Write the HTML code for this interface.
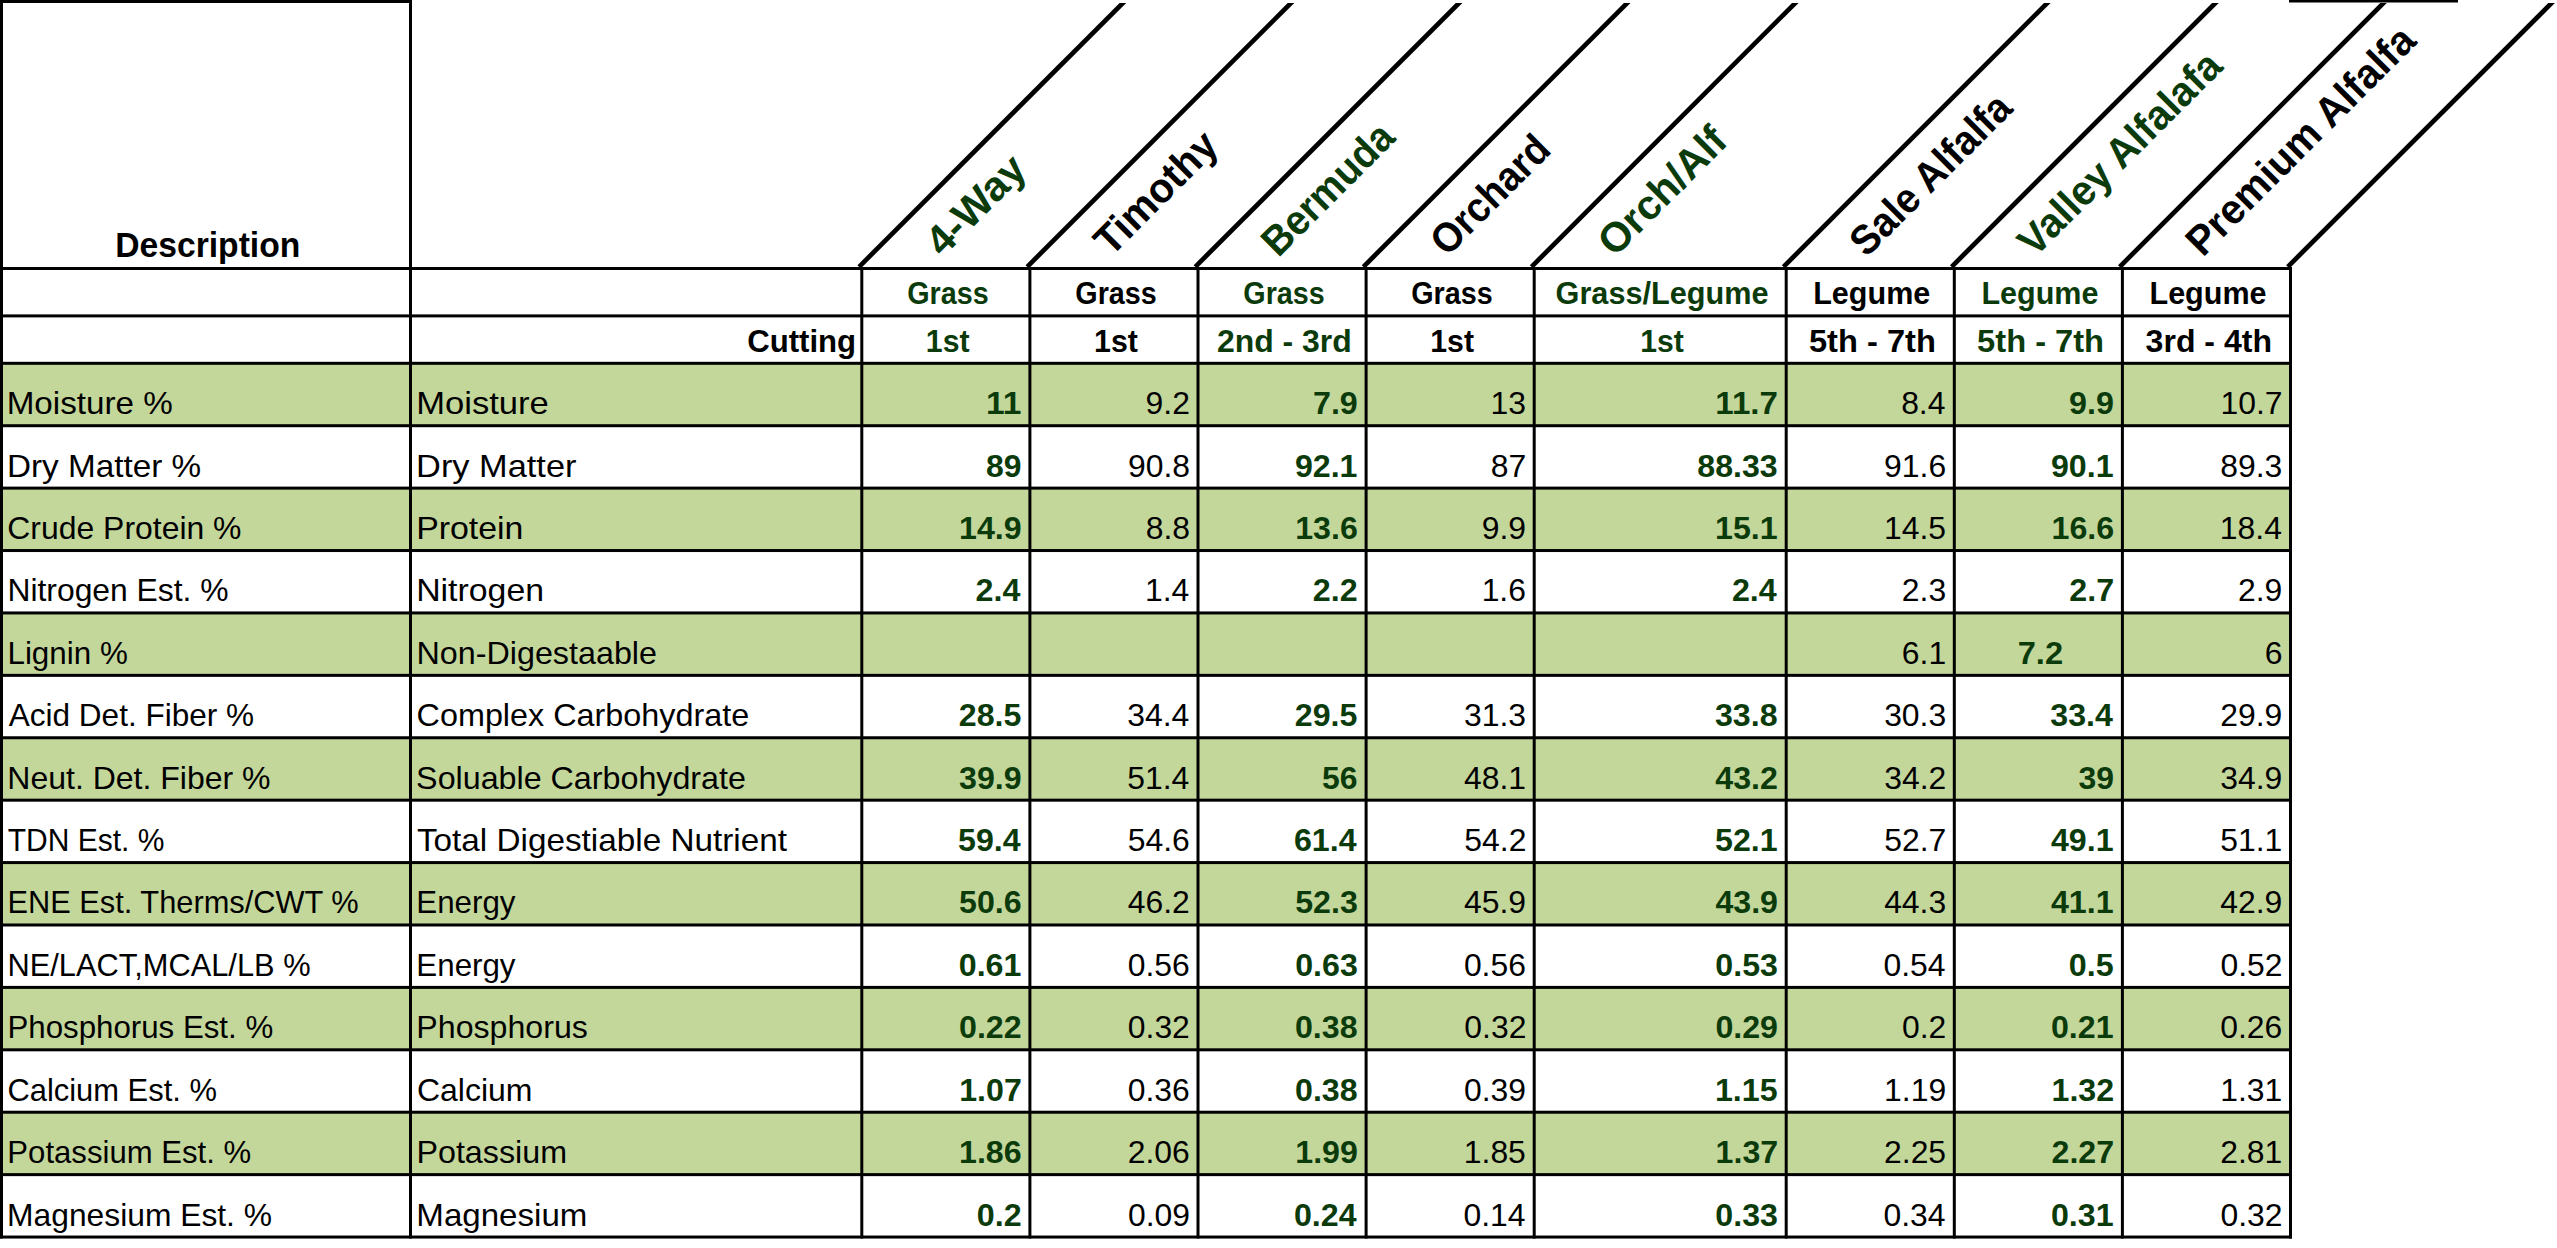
<!DOCTYPE html>
<html lang="en"><head><meta charset="utf-8"><title>Hay Analysis</title>
<style>html,body{margin:0;padding:0;background:#fff}body{width:2557px;height:1248px;overflow:hidden}</style></head>
<body>
<svg width="2557" height="1248" viewBox="0 0 2557 1248" style="display:block" font-family="'Liberation Sans', sans-serif">
<rect x="0" y="0" width="2557" height="1248" fill="#fff"/>
<rect x="1" y="362.80" width="2290.00" height="62.41" fill="#C4D79B"/>
<rect x="1" y="487.62" width="2290.00" height="62.41" fill="#C4D79B"/>
<rect x="1" y="612.44" width="2290.00" height="62.41" fill="#C4D79B"/>
<rect x="1" y="737.26" width="2290.00" height="62.41" fill="#C4D79B"/>
<rect x="1" y="862.08" width="2290.00" height="62.41" fill="#C4D79B"/>
<rect x="1" y="986.90" width="2290.00" height="62.41" fill="#C4D79B"/>
<rect x="1" y="1111.72" width="2290.00" height="62.41" fill="#C4D79B"/>
<g fill="#000"><rect x="0" y="0" width="412" height="3"/><rect x="2289" y="0" width="169" height="2.5"/><rect x="0" y="267.00" width="2292.00" height="3.0"/><rect x="0" y="314.40" width="2292.00" height="3.0"/><rect x="0" y="361.80" width="2292.00" height="3.0"/><rect x="0" y="424.21" width="2292.00" height="3.0"/><rect x="0" y="486.62" width="2292.00" height="3.0"/><rect x="0" y="549.03" width="2292.00" height="3.0"/><rect x="0" y="611.44" width="2292.00" height="3.0"/><rect x="0" y="673.85" width="2292.00" height="3.0"/><rect x="0" y="736.26" width="2292.00" height="3.0"/><rect x="0" y="798.67" width="2292.00" height="3.0"/><rect x="0" y="861.08" width="2292.00" height="3.0"/><rect x="0" y="923.49" width="2292.00" height="3.0"/><rect x="0" y="985.90" width="2292.00" height="3.0"/><rect x="0" y="1048.31" width="2292.00" height="3.0"/><rect x="0" y="1110.72" width="2292.00" height="3.0"/><rect x="0" y="1173.13" width="2292.00" height="3.0"/><rect x="0" y="1235.54" width="2292.00" height="3.0"/><rect x="0" y="0" width="3.0" height="1238.54"/><rect x="409" y="0" width="3.0" height="1238.54"/><rect x="860.30" y="267" width="3.0" height="971.54"/><rect x="1028.40" y="267" width="3.0" height="971.54"/><rect x="1196.50" y="267" width="3.0" height="971.54"/><rect x="1364.60" y="267" width="3.0" height="971.54"/><rect x="1532.70" y="267" width="3.0" height="971.54"/><rect x="1784.70" y="267" width="3.0" height="971.54"/><rect x="1952.80" y="267" width="3.0" height="971.54"/><rect x="2120.90" y="267" width="3.0" height="971.54"/><rect x="2289.00" y="267" width="3.0" height="971.54"/></g>
<clipPath id="dc"><rect x="0" y="3" width="2557" height="270"/></clipPath>
<g stroke="#000" stroke-width="4.7" clip-path="url(#dc)"><line x1="859.10" y1="266.8" x2="1135.90" y2="-10"/><line x1="1027.20" y1="266.8" x2="1304.00" y2="-10"/><line x1="1195.30" y1="266.8" x2="1472.10" y2="-10"/><line x1="1363.40" y1="266.8" x2="1640.20" y2="-10"/><line x1="1531.50" y1="266.8" x2="1808.30" y2="-10"/><line x1="1783.50" y1="266.8" x2="2060.30" y2="-10"/><line x1="1951.60" y1="266.8" x2="2228.40" y2="-10"/><line x1="2119.70" y1="266.8" x2="2396.50" y2="-10"/><line x1="2287.80" y1="266.8" x2="2564.60" y2="-10"/></g>
<text x="115.20" y="257.20" font-size="35.0" font-weight="bold" textLength="185.13" lengthAdjust="spacingAndGlyphs">Description</text>
<text x="747.18" y="352.20" font-size="32.0" font-weight="bold" textLength="108.90" lengthAdjust="spacingAndGlyphs">Cutting</text>
<text x="907.23" y="304.30" font-size="32.0" font-weight="bold" fill="#0B3B0B" textLength="81.43" lengthAdjust="spacingAndGlyphs">Grass</text>
<text x="925.85" y="352.20" font-size="32.0" font-weight="bold" fill="#0B3B0B" textLength="43.66" lengthAdjust="spacingAndGlyphs">1st</text>
<text x="1075.33" y="304.30" font-size="32.0" font-weight="bold" textLength="81.45" lengthAdjust="spacingAndGlyphs">Grass</text>
<text x="1094.04" y="352.20" font-size="32.0" font-weight="bold" textLength="43.81" lengthAdjust="spacingAndGlyphs">1st</text>
<text x="1243.30" y="304.30" font-size="32.0" font-weight="bold" fill="#0B3B0B" textLength="81.40" lengthAdjust="spacingAndGlyphs">Grass</text>
<text x="1216.98" y="352.20" font-size="32.0" font-weight="bold" fill="#0B3B0B" textLength="134.82" lengthAdjust="spacingAndGlyphs">2nd - 3rd</text>
<text x="1411.21" y="304.30" font-size="32.0" font-weight="bold" textLength="81.45" lengthAdjust="spacingAndGlyphs">Grass</text>
<text x="1430.26" y="352.20" font-size="32.0" font-weight="bold" textLength="43.74" lengthAdjust="spacingAndGlyphs">1st</text>
<text x="1555.57" y="304.30" font-size="32.0" font-weight="bold" fill="#0B3B0B" textLength="212.99" lengthAdjust="spacingAndGlyphs">Grass/Legume</text>
<text x="1640.29" y="352.20" font-size="32.0" font-weight="bold" fill="#0B3B0B" textLength="43.54" lengthAdjust="spacingAndGlyphs">1st</text>
<text x="1813.22" y="304.30" font-size="32.0" font-weight="bold" textLength="117.04" lengthAdjust="spacingAndGlyphs">Legume</text>
<text x="1808.94" y="352.20" font-size="32.0" font-weight="bold" textLength="126.90" lengthAdjust="spacingAndGlyphs">5th - 7th</text>
<text x="1981.38" y="304.30" font-size="32.0" font-weight="bold" fill="#0B3B0B" textLength="117.08" lengthAdjust="spacingAndGlyphs">Legume</text>
<text x="1977.12" y="352.20" font-size="32.0" font-weight="bold" fill="#0B3B0B" textLength="126.93" lengthAdjust="spacingAndGlyphs">5th - 7th</text>
<text x="2149.49" y="304.30" font-size="32.0" font-weight="bold" textLength="117.09" lengthAdjust="spacingAndGlyphs">Legume</text>
<text x="2145.62" y="352.20" font-size="32.0" font-weight="bold" textLength="126.38" lengthAdjust="spacingAndGlyphs">3rd - 4th</text>
<text x="6.69" y="414.21" font-size="32.0" textLength="166.18" lengthAdjust="spacingAndGlyphs">Moisture %</text>
<text x="416.20" y="414.21" font-size="32.0" textLength="132.67" lengthAdjust="spacingAndGlyphs">Moisture</text>
<text x="985.93" y="414.21" font-size="32.0" font-weight="bold" fill="#0B3B0B" textLength="35.48" lengthAdjust="spacingAndGlyphs">11</text>
<text x="1145.55" y="414.21" font-size="32.0" textLength="44.31" lengthAdjust="spacingAndGlyphs">9.2</text>
<text x="1312.97" y="414.21" font-size="32.0" font-weight="bold" fill="#0B3B0B" textLength="44.83" lengthAdjust="spacingAndGlyphs">7.9</text>
<text x="1490.46" y="414.21" font-size="32.0" textLength="35.48" lengthAdjust="spacingAndGlyphs">13</text>
<text x="1715.35" y="414.21" font-size="32.0" font-weight="bold" fill="#0B3B0B" textLength="62.57" lengthAdjust="spacingAndGlyphs">11.7</text>
<text x="1901.15" y="414.21" font-size="32.0" textLength="44.31" lengthAdjust="spacingAndGlyphs">8.4</text>
<text x="2069.10" y="414.21" font-size="32.0" font-weight="bold" fill="#0B3B0B" textLength="44.83" lengthAdjust="spacingAndGlyphs">9.9</text>
<text x="2220.44" y="414.21" font-size="32.0" textLength="62.05" lengthAdjust="spacingAndGlyphs">10.7</text>
<text x="6.99" y="476.62" font-size="32.0" textLength="194.12" lengthAdjust="spacingAndGlyphs">Dry Matter %</text>
<text x="416.13" y="476.62" font-size="32.0" textLength="160.30" lengthAdjust="spacingAndGlyphs">Dry Matter</text>
<text x="986.10" y="476.62" font-size="32.0" font-weight="bold" fill="#0B3B0B" textLength="35.48" lengthAdjust="spacingAndGlyphs">89</text>
<text x="1127.95" y="476.62" font-size="32.0" textLength="62.05" lengthAdjust="spacingAndGlyphs">90.8</text>
<text x="1294.89" y="476.62" font-size="32.0" font-weight="bold" fill="#0B3B0B" textLength="62.57" lengthAdjust="spacingAndGlyphs">92.1</text>
<text x="1490.68" y="476.62" font-size="32.0" textLength="35.48" lengthAdjust="spacingAndGlyphs">87</text>
<text x="1697.35" y="476.62" font-size="32.0" font-weight="bold" fill="#0B3B0B" textLength="80.31" lengthAdjust="spacingAndGlyphs">88.33</text>
<text x="1884.07" y="476.62" font-size="32.0" textLength="62.05" lengthAdjust="spacingAndGlyphs">91.6</text>
<text x="2050.99" y="476.62" font-size="32.0" font-weight="bold" fill="#0B3B0B" textLength="62.57" lengthAdjust="spacingAndGlyphs">90.1</text>
<text x="2220.26" y="476.62" font-size="32.0" textLength="62.05" lengthAdjust="spacingAndGlyphs">89.3</text>
<text x="7.34" y="539.03" font-size="32.0" textLength="234.13" lengthAdjust="spacingAndGlyphs">Crude Protein %</text>
<text x="416.16" y="539.03" font-size="32.0" textLength="107.30" lengthAdjust="spacingAndGlyphs">Protein</text>
<text x="959.07" y="539.03" font-size="32.0" font-weight="bold" fill="#0B3B0B" textLength="62.57" lengthAdjust="spacingAndGlyphs">14.9</text>
<text x="1145.69" y="539.03" font-size="32.0" textLength="44.31" lengthAdjust="spacingAndGlyphs">8.8</text>
<text x="1295.23" y="539.03" font-size="32.0" font-weight="bold" fill="#0B3B0B" textLength="62.57" lengthAdjust="spacingAndGlyphs">13.6</text>
<text x="1481.69" y="539.03" font-size="32.0" textLength="44.31" lengthAdjust="spacingAndGlyphs">9.9</text>
<text x="1715.04" y="539.03" font-size="32.0" font-weight="bold" fill="#0B3B0B" textLength="62.57" lengthAdjust="spacingAndGlyphs">15.1</text>
<text x="1884.05" y="539.03" font-size="32.0" textLength="62.05" lengthAdjust="spacingAndGlyphs">14.5</text>
<text x="2051.51" y="539.03" font-size="32.0" font-weight="bold" fill="#0B3B0B" textLength="62.57" lengthAdjust="spacingAndGlyphs">16.6</text>
<text x="2219.84" y="539.03" font-size="32.0" textLength="62.05" lengthAdjust="spacingAndGlyphs">18.4</text>
<text x="7.42" y="601.44" font-size="32.0" textLength="221.21" lengthAdjust="spacingAndGlyphs">Nitrogen Est. %</text>
<text x="416.16" y="601.44" font-size="32.0" textLength="127.85" lengthAdjust="spacingAndGlyphs">Nitrogen</text>
<text x="975.59" y="601.44" font-size="32.0" font-weight="bold" fill="#0B3B0B" textLength="44.83" lengthAdjust="spacingAndGlyphs">2.4</text>
<text x="1144.96" y="601.44" font-size="32.0" textLength="44.31" lengthAdjust="spacingAndGlyphs">1.4</text>
<text x="1312.80" y="601.44" font-size="32.0" font-weight="bold" fill="#0B3B0B" textLength="44.83" lengthAdjust="spacingAndGlyphs">2.2</text>
<text x="1481.63" y="601.44" font-size="32.0" textLength="44.31" lengthAdjust="spacingAndGlyphs">1.6</text>
<text x="1731.94" y="601.44" font-size="32.0" font-weight="bold" fill="#0B3B0B" textLength="44.83" lengthAdjust="spacingAndGlyphs">2.4</text>
<text x="1901.87" y="601.44" font-size="32.0" textLength="44.31" lengthAdjust="spacingAndGlyphs">2.3</text>
<text x="2069.30" y="601.44" font-size="32.0" font-weight="bold" fill="#0B3B0B" textLength="44.83" lengthAdjust="spacingAndGlyphs">2.7</text>
<text x="2238.03" y="601.44" font-size="32.0" textLength="44.31" lengthAdjust="spacingAndGlyphs">2.9</text>
<text x="7.46" y="663.85" font-size="32.0" textLength="120.34" lengthAdjust="spacingAndGlyphs">Lignin %</text>
<text x="416.45" y="663.85" font-size="32.0" textLength="240.56" lengthAdjust="spacingAndGlyphs">Non-Digestaable</text>
<text x="1901.85" y="663.85" font-size="32.0" textLength="44.31" lengthAdjust="spacingAndGlyphs">6.1</text>
<text x="2017.68" y="663.85" font-size="32.0" font-weight="bold" fill="#0B3B0B" textLength="45.35" lengthAdjust="spacingAndGlyphs">7.2</text>
<text x="2264.66" y="663.85" font-size="32.0" textLength="17.74" lengthAdjust="spacingAndGlyphs">6</text>
<text x="8.78" y="726.26" font-size="32.0" textLength="245.23" lengthAdjust="spacingAndGlyphs">Acid Det. Fiber %</text>
<text x="416.61" y="726.26" font-size="32.0" textLength="332.53" lengthAdjust="spacingAndGlyphs">Complex Carbohydrate</text>
<text x="958.75" y="726.26" font-size="32.0" font-weight="bold" fill="#0B3B0B" textLength="62.57" lengthAdjust="spacingAndGlyphs">28.5</text>
<text x="1127.22" y="726.26" font-size="32.0" textLength="62.05" lengthAdjust="spacingAndGlyphs">34.4</text>
<text x="1294.84" y="726.26" font-size="32.0" font-weight="bold" fill="#0B3B0B" textLength="62.57" lengthAdjust="spacingAndGlyphs">29.5</text>
<text x="1463.97" y="726.26" font-size="32.0" textLength="62.05" lengthAdjust="spacingAndGlyphs">31.3</text>
<text x="1714.99" y="726.26" font-size="32.0" font-weight="bold" fill="#0B3B0B" textLength="62.57" lengthAdjust="spacingAndGlyphs">33.8</text>
<text x="1884.13" y="726.26" font-size="32.0" textLength="62.05" lengthAdjust="spacingAndGlyphs">30.3</text>
<text x="2050.28" y="726.26" font-size="32.0" font-weight="bold" fill="#0B3B0B" textLength="62.57" lengthAdjust="spacingAndGlyphs">33.4</text>
<text x="2220.29" y="726.26" font-size="32.0" textLength="62.05" lengthAdjust="spacingAndGlyphs">29.9</text>
<text x="7.37" y="788.67" font-size="32.0" textLength="263.11" lengthAdjust="spacingAndGlyphs">Neut. Det. Fiber %</text>
<text x="416.14" y="788.67" font-size="32.0" textLength="329.80" lengthAdjust="spacingAndGlyphs">Soluable Carbohydrate</text>
<text x="959.07" y="788.67" font-size="32.0" font-weight="bold" fill="#0B3B0B" textLength="62.57" lengthAdjust="spacingAndGlyphs">39.9</text>
<text x="1127.19" y="788.67" font-size="32.0" textLength="62.05" lengthAdjust="spacingAndGlyphs">51.4</text>
<text x="1322.11" y="788.67" font-size="32.0" font-weight="bold" fill="#0B3B0B" textLength="35.48" lengthAdjust="spacingAndGlyphs">56</text>
<text x="1463.99" y="788.67" font-size="32.0" textLength="62.05" lengthAdjust="spacingAndGlyphs">48.1</text>
<text x="1715.26" y="788.67" font-size="32.0" font-weight="bold" fill="#0B3B0B" textLength="62.57" lengthAdjust="spacingAndGlyphs">43.2</text>
<text x="1884.29" y="788.67" font-size="32.0" textLength="62.05" lengthAdjust="spacingAndGlyphs">34.2</text>
<text x="2078.46" y="788.67" font-size="32.0" font-weight="bold" fill="#0B3B0B" textLength="35.48" lengthAdjust="spacingAndGlyphs">39</text>
<text x="2220.29" y="788.67" font-size="32.0" textLength="62.05" lengthAdjust="spacingAndGlyphs">34.9</text>
<text x="7.71" y="851.08" font-size="32.0" textLength="156.62" lengthAdjust="spacingAndGlyphs">TDN Est. %</text>
<text x="416.97" y="851.08" font-size="32.0" textLength="369.97" lengthAdjust="spacingAndGlyphs">Total Digestiable Nutrient</text>
<text x="958.05" y="851.08" font-size="32.0" font-weight="bold" fill="#0B3B0B" textLength="62.57" lengthAdjust="spacingAndGlyphs">59.4</text>
<text x="1127.71" y="851.08" font-size="32.0" textLength="62.05" lengthAdjust="spacingAndGlyphs">54.6</text>
<text x="1293.97" y="851.08" font-size="32.0" font-weight="bold" fill="#0B3B0B" textLength="62.57" lengthAdjust="spacingAndGlyphs">61.4</text>
<text x="1464.34" y="851.08" font-size="32.0" textLength="62.05" lengthAdjust="spacingAndGlyphs">54.2</text>
<text x="1715.04" y="851.08" font-size="32.0" font-weight="bold" fill="#0B3B0B" textLength="62.57" lengthAdjust="spacingAndGlyphs">52.1</text>
<text x="1884.29" y="851.08" font-size="32.0" textLength="62.05" lengthAdjust="spacingAndGlyphs">52.7</text>
<text x="2050.99" y="851.08" font-size="32.0" font-weight="bold" fill="#0B3B0B" textLength="62.57" lengthAdjust="spacingAndGlyphs">49.1</text>
<text x="2220.29" y="851.08" font-size="32.0" textLength="62.05" lengthAdjust="spacingAndGlyphs">51.1</text>
<text x="7.49" y="913.49" font-size="32.0" textLength="351.24" lengthAdjust="spacingAndGlyphs">ENE Est. Therms/CWT %</text>
<text x="416.33" y="913.49" font-size="32.0" textLength="99.17" lengthAdjust="spacingAndGlyphs">Energy</text>
<text x="959.01" y="913.49" font-size="32.0" font-weight="bold" fill="#0B3B0B" textLength="62.57" lengthAdjust="spacingAndGlyphs">50.6</text>
<text x="1127.81" y="913.49" font-size="32.0" textLength="62.05" lengthAdjust="spacingAndGlyphs">46.2</text>
<text x="1295.23" y="913.49" font-size="32.0" font-weight="bold" fill="#0B3B0B" textLength="62.57" lengthAdjust="spacingAndGlyphs">52.3</text>
<text x="1463.95" y="913.49" font-size="32.0" textLength="62.05" lengthAdjust="spacingAndGlyphs">45.9</text>
<text x="1715.38" y="913.49" font-size="32.0" font-weight="bold" fill="#0B3B0B" textLength="62.57" lengthAdjust="spacingAndGlyphs">43.9</text>
<text x="1884.13" y="913.49" font-size="32.0" textLength="62.05" lengthAdjust="spacingAndGlyphs">44.3</text>
<text x="2050.99" y="913.49" font-size="32.0" font-weight="bold" fill="#0B3B0B" textLength="62.57" lengthAdjust="spacingAndGlyphs">41.1</text>
<text x="2220.29" y="913.49" font-size="32.0" textLength="62.05" lengthAdjust="spacingAndGlyphs">42.9</text>
<text x="7.46" y="975.90" font-size="32.0" textLength="303.11" lengthAdjust="spacingAndGlyphs">NE/LACT,MCAL/LB %</text>
<text x="416.35" y="975.90" font-size="32.0" textLength="99.17" lengthAdjust="spacingAndGlyphs">Energy</text>
<text x="958.79" y="975.90" font-size="32.0" font-weight="bold" fill="#0B3B0B" textLength="62.57" lengthAdjust="spacingAndGlyphs">0.61</text>
<text x="1127.71" y="975.90" font-size="32.0" textLength="62.05" lengthAdjust="spacingAndGlyphs">0.56</text>
<text x="1295.24" y="975.90" font-size="32.0" font-weight="bold" fill="#0B3B0B" textLength="62.57" lengthAdjust="spacingAndGlyphs">0.63</text>
<text x="1463.89" y="975.90" font-size="32.0" textLength="62.05" lengthAdjust="spacingAndGlyphs">0.56</text>
<text x="1715.36" y="975.90" font-size="32.0" font-weight="bold" fill="#0B3B0B" textLength="62.57" lengthAdjust="spacingAndGlyphs">0.53</text>
<text x="1883.42" y="975.90" font-size="32.0" textLength="62.05" lengthAdjust="spacingAndGlyphs">0.54</text>
<text x="2068.77" y="975.90" font-size="32.0" font-weight="bold" fill="#0B3B0B" textLength="44.83" lengthAdjust="spacingAndGlyphs">0.5</text>
<text x="2220.44" y="975.90" font-size="32.0" textLength="62.05" lengthAdjust="spacingAndGlyphs">0.52</text>
<text x="7.49" y="1038.31" font-size="32.0" textLength="265.71" lengthAdjust="spacingAndGlyphs">Phosphorus Est. %</text>
<text x="416.33" y="1038.31" font-size="32.0" textLength="171.49" lengthAdjust="spacingAndGlyphs">Phosphorus</text>
<text x="959.06" y="1038.31" font-size="32.0" font-weight="bold" fill="#0B3B0B" textLength="62.57" lengthAdjust="spacingAndGlyphs">0.22</text>
<text x="1127.81" y="1038.31" font-size="32.0" textLength="62.05" lengthAdjust="spacingAndGlyphs">0.32</text>
<text x="1294.99" y="1038.31" font-size="32.0" font-weight="bold" fill="#0B3B0B" textLength="62.57" lengthAdjust="spacingAndGlyphs">0.38</text>
<text x="1464.34" y="1038.31" font-size="32.0" textLength="62.05" lengthAdjust="spacingAndGlyphs">0.32</text>
<text x="1715.38" y="1038.31" font-size="32.0" font-weight="bold" fill="#0B3B0B" textLength="62.57" lengthAdjust="spacingAndGlyphs">0.29</text>
<text x="1902.03" y="1038.31" font-size="32.0" textLength="44.31" lengthAdjust="spacingAndGlyphs">0.2</text>
<text x="2050.99" y="1038.31" font-size="32.0" font-weight="bold" fill="#0B3B0B" textLength="62.57" lengthAdjust="spacingAndGlyphs">0.21</text>
<text x="2220.23" y="1038.31" font-size="32.0" textLength="62.05" lengthAdjust="spacingAndGlyphs">0.26</text>
<text x="7.39" y="1100.72" font-size="32.0" textLength="209.53" lengthAdjust="spacingAndGlyphs">Calcium Est. %</text>
<text x="416.89" y="1100.72" font-size="32.0" textLength="115.55" lengthAdjust="spacingAndGlyphs">Calcium</text>
<text x="959.23" y="1100.72" font-size="32.0" font-weight="bold" fill="#0B3B0B" textLength="62.57" lengthAdjust="spacingAndGlyphs">1.07</text>
<text x="1127.71" y="1100.72" font-size="32.0" textLength="62.05" lengthAdjust="spacingAndGlyphs">0.36</text>
<text x="1295.01" y="1100.72" font-size="32.0" font-weight="bold" fill="#0B3B0B" textLength="62.57" lengthAdjust="spacingAndGlyphs">0.38</text>
<text x="1463.95" y="1100.72" font-size="32.0" textLength="62.05" lengthAdjust="spacingAndGlyphs">0.39</text>
<text x="1714.97" y="1100.72" font-size="32.0" font-weight="bold" fill="#0B3B0B" textLength="62.57" lengthAdjust="spacingAndGlyphs">1.15</text>
<text x="1884.07" y="1100.72" font-size="32.0" textLength="62.05" lengthAdjust="spacingAndGlyphs">1.19</text>
<text x="2051.55" y="1100.72" font-size="32.0" font-weight="bold" fill="#0B3B0B" textLength="62.57" lengthAdjust="spacingAndGlyphs">1.32</text>
<text x="2220.29" y="1100.72" font-size="32.0" textLength="62.05" lengthAdjust="spacingAndGlyphs">1.31</text>
<text x="7.37" y="1163.13" font-size="32.0" textLength="243.77" lengthAdjust="spacingAndGlyphs">Potassium Est. %</text>
<text x="416.45" y="1163.13" font-size="32.0" textLength="150.63" lengthAdjust="spacingAndGlyphs">Potassium</text>
<text x="959.01" y="1163.13" font-size="32.0" font-weight="bold" fill="#0B3B0B" textLength="62.57" lengthAdjust="spacingAndGlyphs">1.86</text>
<text x="1127.71" y="1163.13" font-size="32.0" textLength="62.05" lengthAdjust="spacingAndGlyphs">2.06</text>
<text x="1295.28" y="1163.13" font-size="32.0" font-weight="bold" fill="#0B3B0B" textLength="62.57" lengthAdjust="spacingAndGlyphs">1.99</text>
<text x="1463.81" y="1163.13" font-size="32.0" textLength="62.05" lengthAdjust="spacingAndGlyphs">1.85</text>
<text x="1715.58" y="1163.13" font-size="32.0" font-weight="bold" fill="#0B3B0B" textLength="62.57" lengthAdjust="spacingAndGlyphs">1.37</text>
<text x="1884.05" y="1163.13" font-size="32.0" textLength="62.05" lengthAdjust="spacingAndGlyphs">2.25</text>
<text x="2051.53" y="1163.13" font-size="32.0" font-weight="bold" fill="#0B3B0B" textLength="62.57" lengthAdjust="spacingAndGlyphs">2.27</text>
<text x="2220.29" y="1163.13" font-size="32.0" textLength="62.05" lengthAdjust="spacingAndGlyphs">2.81</text>
<text x="7.12" y="1225.54" font-size="32.0" textLength="264.93" lengthAdjust="spacingAndGlyphs">Magnesium Est. %</text>
<text x="416.38" y="1225.54" font-size="32.0" textLength="170.99" lengthAdjust="spacingAndGlyphs">Magnesium</text>
<text x="976.81" y="1225.54" font-size="32.0" font-weight="bold" fill="#0B3B0B" textLength="44.83" lengthAdjust="spacingAndGlyphs">0.2</text>
<text x="1128.04" y="1225.54" font-size="32.0" textLength="62.05" lengthAdjust="spacingAndGlyphs">0.09</text>
<text x="1293.97" y="1225.54" font-size="32.0" font-weight="bold" fill="#0B3B0B" textLength="62.57" lengthAdjust="spacingAndGlyphs">0.24</text>
<text x="1463.50" y="1225.54" font-size="32.0" textLength="62.05" lengthAdjust="spacingAndGlyphs">0.14</text>
<text x="1715.36" y="1225.54" font-size="32.0" font-weight="bold" fill="#0B3B0B" textLength="62.57" lengthAdjust="spacingAndGlyphs">0.33</text>
<text x="1883.42" y="1225.54" font-size="32.0" textLength="62.05" lengthAdjust="spacingAndGlyphs">0.34</text>
<text x="2050.99" y="1225.54" font-size="32.0" font-weight="bold" fill="#0B3B0B" textLength="62.57" lengthAdjust="spacingAndGlyphs">0.31</text>
<text x="2220.44" y="1225.54" font-size="32.0" textLength="62.05" lengthAdjust="spacingAndGlyphs">0.32</text>
<text transform="translate(942.40 257.90) rotate(-45)" font-size="41.4" font-weight="bold" fill="#0B3B0B" textLength="122.20" lengthAdjust="spacingAndGlyphs">4-Way</text>
<text transform="translate(1110.95 257.45) rotate(-45)" font-size="41.4" font-weight="bold" textLength="155.02" lengthAdjust="spacingAndGlyphs">Timothy</text>
<text transform="translate(1278.18 258.32) rotate(-45)" font-size="41.4" font-weight="bold" fill="#0B3B0B" textLength="167.95" lengthAdjust="spacingAndGlyphs">Bermuda</text>
<text transform="translate(1447.14 257.46) rotate(-45)" font-size="41.4" font-weight="bold" textLength="149.52" lengthAdjust="spacingAndGlyphs">Orchard</text>
<text transform="translate(1614.65 258.05) rotate(-45)" font-size="41.4" font-weight="bold" fill="#0B3B0B" textLength="162.44" lengthAdjust="spacingAndGlyphs">Orch/Alf</text>
<text transform="translate(1866.44 258.26) rotate(-45)" font-size="41.4" font-weight="bold" textLength="209.30" lengthAdjust="spacingAndGlyphs">Sale Alfalfa</text>
<text transform="translate(2034.65 258.15) rotate(-45)" font-size="41.4" font-weight="bold" fill="#0B3B0B" textLength="268.38" lengthAdjust="spacingAndGlyphs">Valley Alfalafa</text>
<text transform="translate(2202.83 258.07) rotate(-45)" font-size="41.4" font-weight="bold" textLength="304.29" lengthAdjust="spacingAndGlyphs">Premium Alfalfa</text>
</svg>
</body></html>
